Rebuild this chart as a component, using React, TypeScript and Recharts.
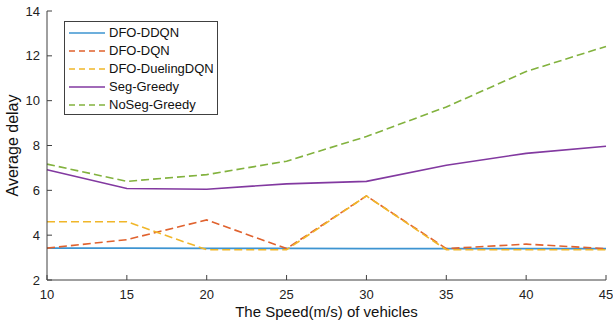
import { LineChart, Line, XAxis, YAxis, Legend } from "recharts"

// x: vehicle speed (m/s)
const speeds = [10, 15, 20, 25, 30, 35, 40, 45]

// average delay per method
const ddqn = [3.42, 3.42, 3.41, 3.41, 3.4, 3.4, 3.4, 3.4]
const dqn = [3.42, 3.8, 4.68, 3.4, 5.75, 3.4, 3.6, 3.4]
const dueling = [4.6, 4.6, 3.35, 3.35, 5.75, 3.35, 3.35, 3.35]
const segGreedy = [6.92, 6.08, 6.05, 6.29, 6.4, 7.12, 7.65, 7.97]
const noSegGreedy = [7.17, 6.4, 6.7, 7.3, 8.4, 9.72, 11.3, 12.42]

const xTicks = [10, 15, 20, 25, 30, 35, 40, 45]
const yTicks = [2, 4, 6, 8, 10, 12, 14]

const series = [
  { key: "ddqn", name: "DFO-DDQN", color: "#3d94d1", dash: undefined },
  { key: "dqn", name: "DFO-DQN", color: "#e0622e", dash: "8 4" },
  { key: "dueling", name: "DFO-DuelingDQN", color: "#f0b629", dash: "8 4" },
  { key: "seg", name: "Seg-Greedy", color: "#8239a0", dash: undefined },
  { key: "noseg", name: "NoSeg-Greedy", color: "#82b23e", dash: "8 4" },
]

const data = speeds.map((s, i) => ({
  speed: s,
  ddqn: ddqn[i],
  dqn: dqn[i],
  dueling: dueling[i],
  seg: segGreedy[i],
  noseg: noSegGreedy[i],
}))

const FONT = "'Liberation Sans', Arial, Helvetica, sans-serif"
const AXIS = "#404040"

function LegendBox() {
  return (
    <div
      style={{
        border: `1px solid ${AXIS}`,
        background: "#fff",
        width: 152,
        paddingTop: 2,
        boxSizing: "content-box",
        fontFamily: FONT,
        fontSize: 13,
        color: "#111",
      }}
    >
      {series.map((s) => (
        <div key={s.key} style={{ height: 18, display: "flex", alignItems: "center" }}>
          <svg width={44} height={18} style={{ display: "block" }}>
            <line x1={4} x2={40} y1={9} y2={9} stroke={s.color} strokeWidth={1.6} strokeDasharray={s.dash ? "6 4" : undefined} />
          </svg>
          <span style={{ lineHeight: "18px", whiteSpace: "nowrap" }}>{s.name}</span>
        </div>
      ))}
    </div>
  )
}

export default function App() {
  return (
    <div style={{ position: "absolute", left: 0, top: 0, width: 613, height: 324, background: "#fff" }}>
      <LineChart width={613} height={324} data={data} margin={{ top: 11, right: 7, bottom: 0, left: 0 }}>
        <XAxis
          xAxisId="bottom"
          dataKey="speed"
          type="number"
          domain={[10, 45]}
          ticks={xTicks}
          height={44}
          stroke={AXIS}
          tickSize={-5}
          tickMargin={15}
          tick={{ fill: "#222", fontSize: 13, fontFamily: FONT }}
          label={{
            content: (p: any) => (
              <text x={p.viewBox.x + p.viewBox.width / 2} y={317} textAnchor="middle" fontSize={15} fontFamily={FONT} fill="#111">
                The Speed(m/s) of vehicles
              </text>
            ),
          }}
        />
        <XAxis
          xAxisId="top"
          orientation="top"
          dataKey="speed"
          type="number"
          domain={[10, 45]}
          ticks={xTicks}
          height={0}
          stroke={AXIS}
          tickSize={-5}
          tick={false}
        />
        <YAxis
          yAxisId="left"
          type="number"
          domain={[2, 14]}
          ticks={yTicks}
          width={47}
          stroke={AXIS}
          tickSize={-5}
          tickMargin={12}
          tick={{ fill: "#222", fontSize: 13, fontFamily: FONT }}
          label={{
            content: (p: any) => {
              const cy = p.viewBox.y + p.viewBox.height / 2
              return (
                <text x={18} y={cy} transform={`rotate(-90, 18, ${cy})`} textAnchor="middle" fontSize={16} fontFamily={FONT} fill="#111">
                  Average delay
                </text>
              )
            },
          }}
        />
        <YAxis
          yAxisId="right"
          orientation="right"
          type="number"
          domain={[2, 14]}
          ticks={yTicks}
          width={0}
          stroke={AXIS}
          tickSize={-5}
          tick={false}
        />
        <Legend
          layout="vertical"
          align="center"
          verticalAlign="middle"
          wrapperStyle={{ left: 64, top: 21, width: "auto" }}
          content={() => <LegendBox />}
        />
        {series.map((s) => (
          <Line
            key={s.key}
            xAxisId="bottom"
            yAxisId="left"
            type="linear"
            dataKey={s.key}
            name={s.name}
            stroke={s.color}
            strokeWidth={1.6}
            strokeDasharray={s.dash}
            dot={false}
            activeDot={false}
            isAnimationActive={false}
          />
        ))}
      </LineChart>
    </div>
  )
}
